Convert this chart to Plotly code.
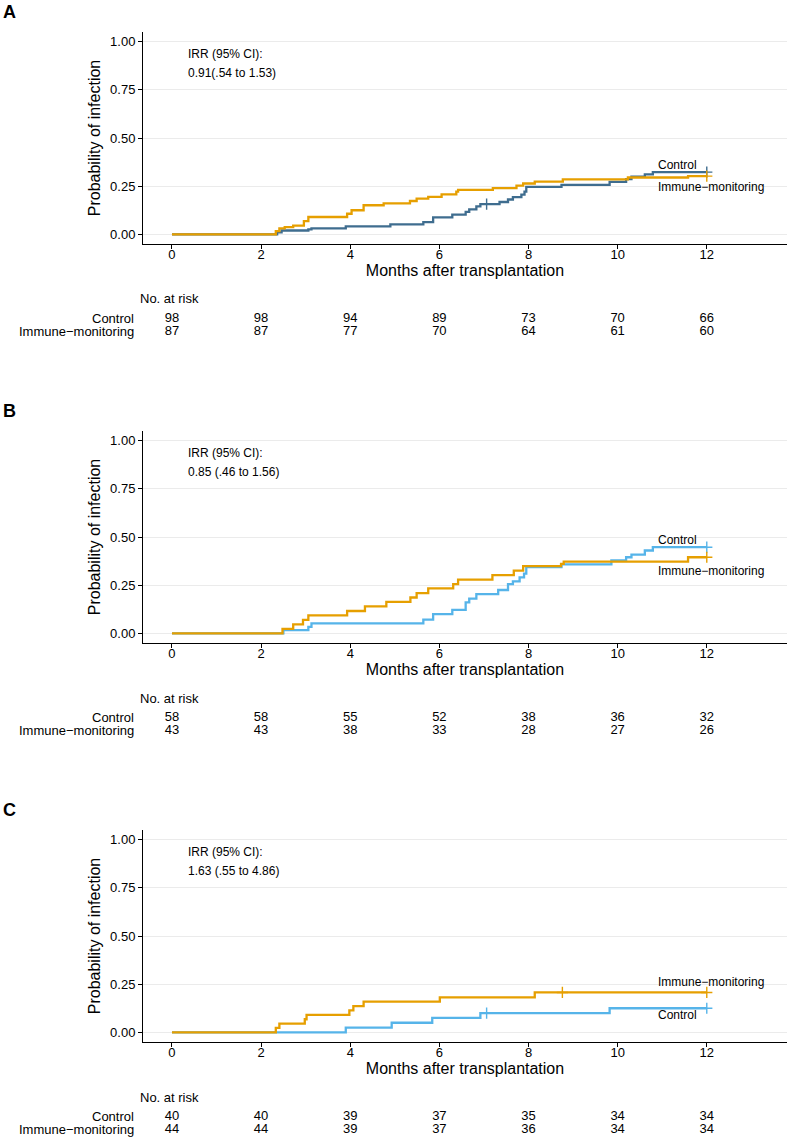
import numpy as np
import plotly.graph_objects as go

W, H = 794, 1142
FONT = "Liberation Sans, Arial, Helvetica, sans-serif"
ORANGE = "#E69F00"
DARKBLUE = "#3F6D8F"
LIGHTBLUE = "#56B4E9"

# ---------------- data ----------------
risk_times = [0, 2, 4, 6, 8, 10, 12]
x_ticks = [0, 2, 4, 6, 8, 10, 12]
y_ticks = [0, 0.25, 0.5, 0.75, 1.0]
y_ticklabels = ["0.00", "0.25", "0.50", "0.75", "1.00"]
group_names = ["Control", "Immune\u2212monitoring"]

# Panel A
A_ctrl_t = [0, 2.36, 2.46, 3.06, 3.13, 3.90, 4.90, 5.64, 5.86, 6.29, 6.59, 6.67, 6.83, 6.92,
            7.35, 7.54, 7.65, 7.84, 7.91, 7.95, 8.74, 9.82, 10.19, 10.31, 10.61, 10.79, 12.0]
A_ctrl_p = [0, 0.010, 0.020, 0.026, 0.031, 0.041, 0.052, 0.063, 0.088, 0.102, 0.117, 0.130, 0.145, 0.157,
            0.168, 0.181, 0.193, 0.206, 0.222, 0.246, 0.257, 0.272, 0.287, 0.300, 0.311, 0.323, 0.323]
A_ctrl_cens = [7.06, 12.0]
A_imm_t = [0, 2.33, 2.41, 2.53, 2.72, 2.96, 3.06, 3.93, 4.03, 4.30, 4.75, 5.34, 5.49, 5.75, 6.05,
           6.38, 6.42, 7.20, 7.73, 7.88, 8.14, 8.77, 10.23, 11.58, 12.0]
A_imm_p = [0, 0.017, 0.031, 0.038, 0.045, 0.069, 0.090, 0.107, 0.125, 0.151, 0.161, 0.173, 0.185, 0.194, 0.208,
           0.222, 0.231, 0.240, 0.253, 0.264, 0.274, 0.285, 0.295, 0.302, 0.302]
A_imm_cens = [12.0]
A_risk_ctrl = [98, 98, 94, 89, 73, 70, 66]
A_risk_imm = [87, 87, 77, 70, 64, 61, 60]
A_irr = "0.91(.54 to 1.53)"

# Panel B
B_ctrl_t = [0, 2.50, 3.06, 3.13, 5.64, 5.86, 6.29, 6.59, 6.67, 6.83, 7.32, 7.54, 7.65, 7.80, 7.90,
            7.95, 8.74, 9.86, 10.19, 10.31, 10.61, 10.79, 12.0]
B_ctrl_p = [0, 0.017, 0.034, 0.052, 0.071, 0.100, 0.122, 0.161, 0.180, 0.204, 0.225, 0.256, 0.270, 0.290, 0.310,
            0.344, 0.358, 0.378, 0.395, 0.409, 0.430, 0.447, 0.447]
B_ctrl_cens = [12.0]
B_imm_t = [0, 2.48, 2.72, 2.94, 3.06, 3.93, 4.33, 4.81, 5.35, 5.49, 5.75, 6.31, 6.42, 7.19, 7.67,
           7.88, 8.73, 8.79, 11.58, 12.0]
B_imm_p = [0, 0.023, 0.047, 0.070, 0.093, 0.116, 0.140, 0.163, 0.186, 0.209, 0.233, 0.256, 0.279, 0.302, 0.326,
           0.349, 0.361, 0.372, 0.395, 0.395]
B_imm_cens = [12.0]
B_risk_ctrl = [58, 58, 55, 52, 38, 36, 32]
B_risk_imm = [43, 43, 38, 33, 28, 27, 26]
B_irr = "0.85 (.46 to 1.56)"

# Panel C
C_ctrl_t = [0, 3.90, 4.93, 5.84, 6.92, 9.82, 12.0]
C_ctrl_p = [0, 0.025, 0.050, 0.075, 0.100, 0.125, 0.125]
C_ctrl_cens = [7.06, 12.0]
C_imm_t = [0, 2.33, 2.41, 2.98, 3.02, 3.98, 4.07, 4.30, 6.01, 8.14, 12.0]
C_imm_p = [0, 0.023, 0.045, 0.068, 0.091, 0.114, 0.136, 0.159, 0.182, 0.207, 0.207]
C_imm_cens = [8.76, 12.0]
C_risk_ctrl = [40, 40, 39, 37, 35, 34, 34]
C_risk_imm = [44, 44, 39, 37, 36, 34, 34]
C_irr = "1.63 (.55 to 4.86)"

# label anchor y-values (probability scale) for the curve labels
A_lab_y = {"Control": 0.36, "Immune": 0.248}
B_lab_y = {"Control": 0.487, "Immune": 0.326}
C_lab_y = {"Control": 0.088, "Immune": 0.262}

panels = [
    dict(letter="A", ctrl=(A_ctrl_t, A_ctrl_p, A_ctrl_cens), imm=(A_imm_t, A_imm_p, A_imm_cens),
         ctrl_color=DARKBLUE, risk=(A_risk_ctrl, A_risk_imm), irr=A_irr, lab=A_lab_y, top=32),
    dict(letter="B", ctrl=(B_ctrl_t, B_ctrl_p, B_ctrl_cens), imm=(B_imm_t, B_imm_p, B_imm_cens),
         ctrl_color=LIGHTBLUE, risk=(B_risk_ctrl, B_risk_imm), irr=B_irr, lab=B_lab_y, top=431),
    dict(letter="C", ctrl=(C_ctrl_t, C_ctrl_p, C_ctrl_cens), imm=(C_imm_t, C_imm_p, C_imm_cens),
         ctrl_color=LIGHTBLUE, risk=(C_risk_ctrl, C_risk_imm), irr=C_irr, lab=C_lab_y, top=830),
]

# ---------------- layout helpers ----------------
X_LEFT, X_RIGHT = 143, 787
PLOT_H = 212
XRANGE = [-0.65, 13.8]
YRANGE = [-0.05, 1.05]


def py(v):
    return 1 - v / H


def px(v):
    return v / W


def step_at(ts, ps, t):
    idx = int(np.searchsorted(np.asarray(ts), t, side="right")) - 1
    return ps[max(idx, 0)]


fig = go.Figure()
layout = dict(
    width=W, height=H, margin=dict(l=0, r=0, t=0, b=0),
    paper_bgcolor="white", plot_bgcolor="white",
    showlegend=False, font=dict(family=FONT, color="black"),
)
annotations = []

for i, pnl in enumerate(panels):
    n = i + 1
    tn = i + 4
    top = pnl["top"]
    bottom = top + PLOT_H
    xa, ya = f"x{n}", f"y{n}"
    xt, yt = f"x{tn}", f"y{tn}"

    layout[f"xaxis{n}"] = dict(
        domain=[px(X_LEFT), px(X_RIGHT)], range=XRANGE, anchor=ya,
        tickvals=x_ticks, ticks="outside", ticklen=4, tickcolor="black",
        showline=True, linecolor="black", linewidth=1, showgrid=False, zeroline=False,
        ticklabelstandoff=-6,
        tickfont=dict(size=13, color="black", family=FONT),
        title=dict(text="Months after transplantation", standoff=2,
                   font=dict(size=16, color="black", family=FONT)),
    )
    layout[f"yaxis{n}"] = dict(
        domain=[py(bottom), py(top)], range=YRANGE, anchor=xa,
        tickvals=y_ticks, ticktext=y_ticklabels, ticks="outside", ticklen=4, tickcolor="black",
        showline=True, linecolor="black", linewidth=1, showgrid=True, gridcolor="#EBEBEB",
        gridwidth=1, zeroline=False,
        tickfont=dict(size=13, color="black", family=FONT),
        title=dict(text="Probability of infection", standoff=5,
                   font=dict(size=16, color="black", family=FONT)),
    )
    # risk table axes
    layout[f"xaxis{tn}"] = dict(domain=[px(X_LEFT), px(X_RIGHT)], range=XRANGE, anchor=yt,
                                visible=False, showgrid=False, zeroline=False)
    layout[f"yaxis{tn}"] = dict(domain=[py(bottom + 94), py(bottom + 68)], range=[-0.5, 1.5],
                                anchor=xt, visible=False, showgrid=False, zeroline=False)

    # curves: control first, immune on top
    for key, color in (("ctrl", pnl["ctrl_color"]), ("imm", ORANGE)):
        ts, ps, cens = pnl[key]
        fig.add_trace(go.Scatter(x=ts, y=ps, mode="lines", line=dict(color=color, width=2.3, shape="hv"),
                                 xaxis=xa, yaxis=ya, hoverinfo="skip"))
        fig.add_trace(go.Scatter(x=cens, y=[step_at(ts, ps, c) for c in cens], mode="markers",
                                 marker=dict(symbol="cross-thin", size=8, line=dict(color=color, width=1.4)),
                                 xaxis=xa, yaxis=ya, hoverinfo="skip"))

    # risk table numbers
    rc, ri = pnl["risk"]
    fig.add_trace(go.Scatter(x=risk_times, y=[1] * len(risk_times), mode="text",
                             text=[str(v) for v in rc], textposition="middle center",
                             textfont=dict(size=13, color="black", family=FONT),
                             xaxis=xt, yaxis=yt, hoverinfo="skip"))
    fig.add_trace(go.Scatter(x=risk_times, y=[0] * len(risk_times), mode="text",
                             text=[str(v) for v in ri], textposition="middle center",
                             textfont=dict(size=13, color="black", family=FONT),
                             xaxis=xt, yaxis=yt, hoverinfo="skip"))

    # row labels & header
    annotations.append(dict(text="No. at risk", x=px(137.5), y=py(bottom + 55), xref="paper", yref="paper",
                            xanchor="left", yanchor="middle", showarrow=False,
                            font=dict(size=13, color="black", family=FONT)))
    for lab, yy in ((group_names[0], 1), (group_names[1], 0)):
        annotations.append(dict(text=lab, x=px(136), y=yy, xref="paper", yref=yt,
                                xanchor="right", yanchor="middle", showarrow=False,
                                font=dict(size=13, color="black", family=FONT)))

    # panel letter
    annotations.append(dict(text="<b>" + pnl["letter"] + "</b>", x=px(1), y=py(top - 20), xref="paper",
                            yref="paper", xanchor="left", yanchor="middle", showarrow=False,
                            font=dict(size=18, color="black", family=FONT)))

    # IRR text
    annotations.append(dict(text="IRR (95% CI):", x=0.31, y=0.937, xref=xa, yref=ya, xanchor="left",
                            yanchor="middle", showarrow=False, font=dict(size=12, color="black", family=FONT)))
    annotations.append(dict(text=pnl["irr"], x=0.31, y=0.838, xref=xa, yref=ya, xanchor="left",
                            yanchor="middle", showarrow=False, font=dict(size=12, color="black", family=FONT)))

    # curve labels
    annotations.append(dict(text=group_names[0], x=10.85, y=pnl["lab"]["Control"], xref=xa, yref=ya,
                            xanchor="left", yanchor="middle", showarrow=False,
                            font=dict(size=12, color="black", family=FONT)))
    annotations.append(dict(text=group_names[1], x=10.85, y=pnl["lab"]["Immune"], xref=xa, yref=ya,
                            xanchor="left", yanchor="middle", showarrow=False,
                            font=dict(size=12, color="black", family=FONT)))

layout["annotations"] = annotations
fig.update_layout(**layout)
fig.write_html("out.html", config={"displayModeBar": False},
               post_script="document.body.style.margin='0px';document.body.style.padding='0px';")
